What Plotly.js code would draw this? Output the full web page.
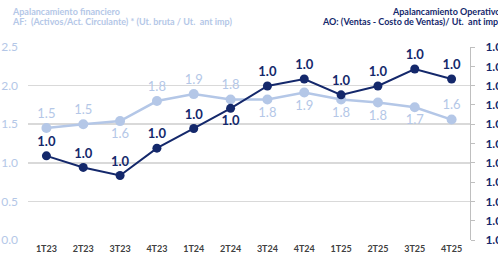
<!DOCTYPE html>
<html>
<head>
<meta charset="utf-8">
<script src="https://cdn.plot.ly/plotly-3.0.1.min.js"></script>
<style>html,body{margin:0;padding:0;background:#fff;overflow:hidden}#chart{width:498px;height:261px}</style>
</head>
<body>
<div id="chart"></div>
<script>
const categories = ["1T23","2T23","3T23","4T23","1T24","2T24","3T24","4T24","1T25","2T25","3T25","4T25"];
const afValues = [1.45, 1.50, 1.54, 1.80, 1.89, 1.82, 1.82, 1.91, 1.82, 1.78, 1.72, 1.56];
const afLabels = ["1.5","1.5","1.6","1.8","1.9","1.8","1.8","1.9","1.8","1.8","1.7","1.6"];
const afLabelPos = ["top center","top center","bottom center","top center","top center","top center","bottom center","bottom center","bottom center","bottom center","bottom center","top center"];
const aoValues = [1.0218, 1.0188, 1.0167, 1.0238, 1.0289, 1.0341, 1.0399, 1.0417, 1.0376, 1.0399, 1.0443, 1.0417];
const aoLabelPos = ["top center","top center","top center","top center","top center","bottom center","top center","top center","top center","top center","top center","top center"];
const leftTicks = [0, 0.5, 1.0, 1.5, 2.0, 2.5];

const light = "#b4c7e7";
const dark = "#14286b";
const font = "Lato, 'Open Sans', sans-serif";

const traces = [
  {
    x: categories, y: afValues, yaxis: "y", type: "scatter", mode: "lines+markers+text",
    line: {color: light, width: 2.5}, marker: {color: light, size: 10},
    text: afLabels, textposition: afLabelPos, cliponaxis: false,
    textfont: {family: font, size: 13, color: light}, hoverinfo: "skip"
  },
  {
    x: categories, y: aoValues, yaxis: "y2", type: "scatter", mode: "lines+markers+text",
    line: {color: dark, width: 2}, marker: {color: dark, size: 9},
    text: aoValues.map(v => v.toFixed(1)), textposition: aoLabelPos, cliponaxis: false,
    textfont: {family: font, size: 13, color: dark, weight: "bold"}, hoverinfo: "skip"
  }
];

const layout = {
  width: 498, height: 261,
  margin: {l: 28, r: 28, t: 47, b: 21, pad: 0},
  paper_bgcolor: "#fff", plot_bgcolor: "#fff",
  showlegend: false,
  font: {family: font},
  xaxis: {
    type: "category", range: [-0.5, 11.5], showgrid: false, zeroline: false, showline: false,
    ticks: "", tickfont: {family: font, size: 9, color: "#404040", weight: "bold"}, ticklabelstandoff: 2
  },
  yaxis: {
    range: [0, 2.5], tickvals: leftTicks, tickformat: ".1f",
    showgrid: true, gridcolor: "#d9d9d9", gridwidth: 1.5, zeroline: false, showline: false, ticks: "",
    tickfont: {family: font, size: 12, color: light}, ticklabelstandoff: 9
  },
  yaxis2: {
    overlaying: "y", side: "right", range: [1.0, 1.05], dtick: 0.005, tickformat: ".3f",
    showgrid: false, zeroline: false, showline: true, linecolor: "#bfbfbf", linewidth: 1,
    ticks: "outside", ticklen: 4, tickcolor: "#bfbfbf",
    tickfont: {family: font, size: 12, color: dark, weight: "bold"}, ticklabelstandoff: 8
  },
  annotations: [
    {xref: "paper", yref: "paper", x: -0.041, y: 1.186, xanchor: "left", yanchor: "middle", showarrow: false,
     align: "left", text: "Apalancamiento financiero", font: {family: font, size: 9, color: light, weight: "bold"}},
    {xref: "paper", yref: "paper", x: -0.041, y: 1.13, xanchor: "left", yanchor: "middle", showarrow: false,
     align: "left", text: "AF:  (Activos/Act. Circulante) * (Ut. bruta / Ut.  ant imp)", font: {family: font, size: 9, color: light, weight: "bold"}},
    {xref: "paper", yref: "paper", x: 1.075, y: 1.186, xanchor: "right", yanchor: "middle", showarrow: false,
     align: "right", text: "Apalancamiento Operativo", font: {family: font, size: 9, color: dark, weight: "bold"}},
    {xref: "paper", yref: "paper", x: 1.075, y: 1.13, xanchor: "right", yanchor: "middle", showarrow: false,
     align: "right", text: "AO: (Ventas - Costo de Ventas)/ Ut.  ant imp)", font: {family: font, size: 9, color: dark, weight: "bold"}}
  ]
};

Plotly.newPlot("chart", traces, layout, {displayModeBar: false, staticPlot: true});
</script>
</body>
</html>
